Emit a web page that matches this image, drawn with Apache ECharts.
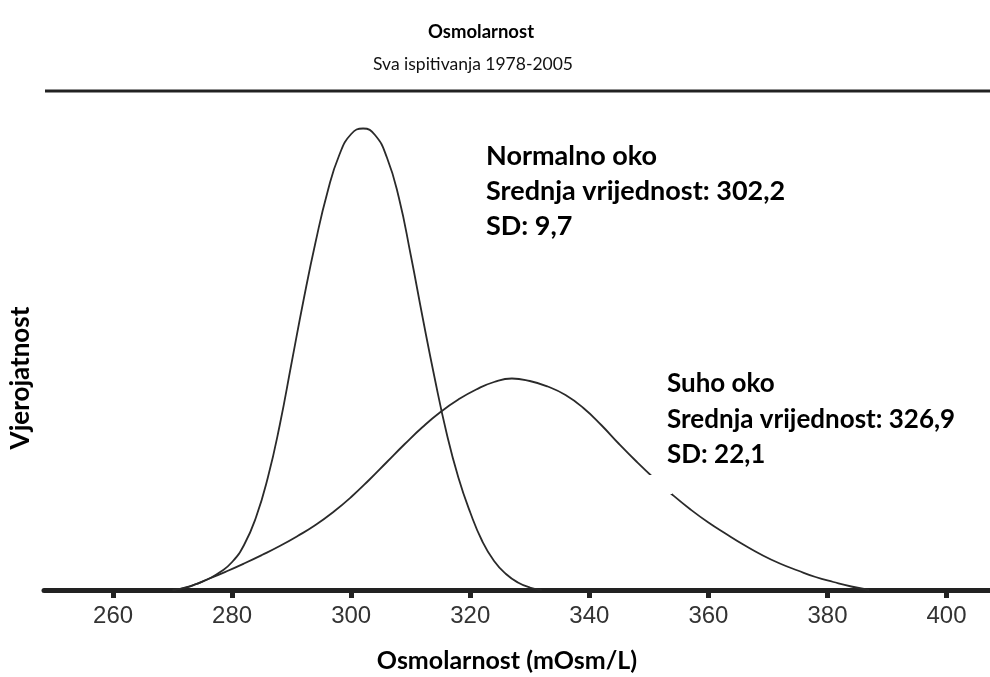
<!DOCTYPE html>
<html>
<head>
<meta charset="utf-8">
<title>Osmolarnost</title>
<script src="https://cdn.jsdelivr.net/npm/echarts@6/dist/echarts.min.js"></script>
<style>
    html, body { margin: 0; padding: 0; background: #fff; }
    #chart { width: 990px; height: 677px; }
</style>
</head>
<body>
<div id="chart"></div>
<script>
// tick labels on x axis
var tickValues = [260, 280, 300, 320, 340, 360, 380, 400];

// normalno oko (osmolarnost, relative height)
var normalX = [270, 272, 274, 276, 278, 280, 282, 284, 286, 288, 290, 292, 294, 296, 298, 300, 302, 304, 306, 308, 310, 312, 314, 316, 318, 320, 322, 324, 326, 328, 330, 332];
var normalY = [0, 0.4, 1.2, 2.2, 3.6, 5.6, 9.0, 14.5, 22.5, 33, 45.5, 58, 69.5, 79.5, 87, 91.2, 92.3, 91, 86.5, 78.5, 67, 54.5, 42.5, 31.5, 22.5, 15.5, 9.8, 5.8, 3.2, 1.5, 0.5, 0];

// suho oko
var dryX = [270, 273, 276, 279, 282, 285, 288, 291, 294, 297, 300, 303, 306, 309, 312, 315, 318, 321, 324, 327, 330, 333, 336, 339, 342, 345, 348, 351, 354, 357, 360, 363, 366, 369, 372, 375, 378, 381, 384, 387];
var dryY = [0, 0.8, 2.2, 3.7, 5.3, 7.0, 8.8, 10.8, 13.0, 15.6, 18.6, 22.0, 25.6, 29.2, 32.6, 35.6, 38.1, 40.1, 41.6, 42.3, 41.8, 40.7, 39.0, 36.4, 33.0, 29.2, 25.6, 22.2, 19.0, 16.1, 13.5, 11.2, 9.0, 7.0, 5.3, 3.9, 2.6, 1.6, 0.7, 0];

var normalText = ['Normalno oko', 'Srednja vrijednost: 302,2', 'SD: 9,7'];
var dryText = ['Suho oko', 'Srednja vrijednost: 326,9', 'SD: 22,1'];

function pairs(xs, ys){
    var out = [];
    for(var i=0;i<xs.length;i++){
        out.push([xs[i], ys[i]]);
    }
    return out;
}

var chart = echarts.init(document.getElementById('chart'));

var font = 'Lato, "Open Sans", sans-serif';

option = {
    backgroundColor: '#fff',
    animation: false,
    title: [
        {
            text: 'Osmolarnost',
            left: 476,
            textAlign: 'center',
            top: 18,
            textStyle: { fontFamily: font, fontSize: 18.5, fontWeight: 'bold', color: '#000' }
        },
        {
            text: 'Sva ispitivanja 1978-2005',
            left: 468,
            textAlign: 'center',
            top: 50,
            textStyle: { fontFamily: font, fontSize: 17.5, fontWeight: 'normal', color: '#111' }
        }
    ],
    grid: {
        left: 44,
        right: 0,
        top: 90,
        bottom: 87
    },
    xAxis: {
        type: 'value',
        min: 248.4,
        max: 407.3,
        axisLine: { show: true, lineStyle: { color: '#222', width: 5 } },
        axisTick: {
            show: true,
            customValues: tickValues,
            length: 8,
            lineStyle: { color: '#222', width: 5 }
        },
        axisLabel: {
            customValues: tickValues,
            margin: 14,
            fontFamily: '"Liberation Sans", Arial, sans-serif',
            fontSize: 24,
            color: '#333'
        },
        splitLine: { show: false }
    },
    yAxis: {
        type: 'value',
        min: 0,
        max: 100,
        show: false
    },
    series: [
        {
            name: 'Normalno oko',
            type: 'line',
            smooth: 0.5,
            showSymbol: false,
            z: 2,
            lineStyle: { color: '#2a2a2a', width: 1.8 },
            data: pairs(normalX, normalY)
        },
        {
            name: 'Suho oko',
            type: 'line',
            smooth: 0.5,
            showSymbol: false,
            z: 2,
            lineStyle: { color: '#2a2a2a', width: 1.8 },
            data: pairs(dryX, dryY)
        }
    ],
    graphic: [
        {   // line under the title
            type: 'line',
            z: 10,
            shape: { x1: 45, y1: 91, x2: 990, y2: 91 },
            style: { stroke: '#222', lineWidth: 3 }
        },
        {   // y axis name
            type: 'text',
            z: 10,
            x: 21,
            y: 378,
            rotation: Math.PI / 2,
            style: {
                text: 'Vjerojatnost',
                fill: '#000',
                font: 'bold 26px ' + font,
                align: 'center',
                verticalAlign: 'middle'
            }
        },
        {   // x axis name
            type: 'text',
            z: 10,
            x: 507,
            y: 661,
            style: {
                text: 'Osmolarnost (mOsm/L)',
                fill: '#000',
                font: 'bold 25px ' + font,
                align: 'center',
                verticalAlign: 'middle'
            }
        },
        {   // gap in the dry eye curve next to the label
            type: 'rect',
            z: 20,
            shape: { x: 649, y: 475, width: 23, height: 19 },
            style: { fill: '#fff' }
        },
        {
            type: 'text',
            z: 30,
            x: 486,
            y: 139,
            style: {
                text: normalText.join('\n'),
                fill: '#000',
                font: 'bold 27px ' + font,
                lineHeight: 35
            }
        },
        {
            type: 'text',
            z: 30,
            x: 667,
            y: 366,
            style: {
                text: dryText.join('\n'),
                fill: '#000',
                font: 'bold 26px ' + font,
                lineHeight: 35.5
            }
        }
    ]
};

chart.setOption(option);
</script>
</body>
</html>
